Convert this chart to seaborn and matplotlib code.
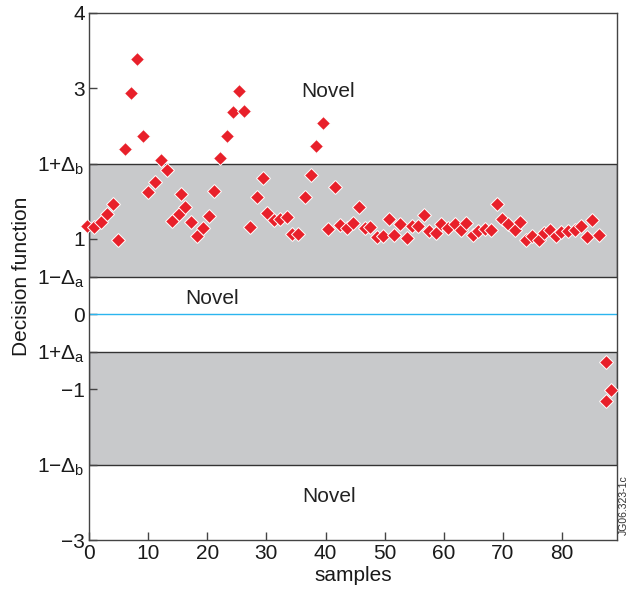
import matplotlib
matplotlib.use("Agg")
import matplotlib.pyplot as plt
import seaborn as sns
import pandas as pd

# ---- data ----
sample_x = [-0.29, 0.85, 1.98, 2.99, 4.11, 4.91, 6.04, 7.06, 8.12, 9.09,
            10.03, 11.12, 12.18, 13.15, 14.09, 15.18, 15.62, 16.24, 17.17, 18.22,
            19.24, 20.30, 21.15, 22.22, 23.30, 24.32, 25.43, 26.28, 27.24, 28.38,
            29.49, 30.17, 31.30, 32.32, 33.50, 34.30, 35.31, 36.55, 37.56, 38.41,
            39.54, 40.49, 41.62, 42.52, 43.60, 44.67, 45.69, 46.70, 47.60, 48.68,
            49.70, 50.76, 51.66, 52.67, 53.86, 54.70, 55.72, 56.73, 57.58, 58.71,
            59.61, 60.80, 61.88, 62.89, 63.79, 64.92, 65.87, 66.95, 68.07, 68.92,
            69.93, 70.90, 72.08, 72.93, 73.89, 74.91, 76.14, 76.87, 78.00, 78.97,
            79.86, 81.00, 82.12, 83.25, 84.26, 85.11, 86.24, 87.48, 87.48, 88.27]
decision = [1.17, 1.16, 1.23, 1.33, 1.46, 0.99, 2.19, 2.94, 3.39, 2.37,
            1.62, 1.76, 2.05, 1.91, 1.24, 1.33, 1.59, 1.42, 1.22, 1.04,
            1.14, 1.31, 1.64, 2.08, 2.37, 2.68, 2.96, 2.70, 1.16, 1.55,
            1.81, 1.35, 1.25, 1.26, 1.29, 1.06, 1.07, 1.56, 1.85, 2.23,
            2.54, 1.13, 1.69, 1.19, 1.15, 1.21, 1.42, 1.15, 1.16, 1.03,
            1.04, 1.27, 1.05, 1.20, 1.01, 1.17, 1.17, 1.32, 1.11, 1.08,
            1.20, 1.14, 1.20, 1.12, 1.21, 1.05, 1.11, 1.13, 1.12, 1.46,
            1.27, 1.20, 1.12, 1.23, 0.99, 1.04, 0.98, 1.08, 1.12, 1.04,
            1.09, 1.10, 1.12, 1.17, 1.02, 1.25, 1.05, -0.63, -1.16, -1.01]

ytick_vals = [4, 3, 2, 1, 0.5, 0, -0.5, -1, -2, -3]
ytick_labels = ["4", "3", r"1+$\Delta_{\mathrm{b}}$", "1", r"1$-\Delta_{\mathrm{a}}$", "0",
                r"1+$\Delta_{\mathrm{a}}$", "\u22121", r"1$-\Delta_{\mathrm{b}}$", "\u22123"]
xtick_vals = [0, 10, 20, 30, 40, 50, 60, 70, 80]
bands = [(0.5, 2.0), (-2.0, -0.5)]
novel_labels = [(40.4, 2.96), (20.8, 0.21), (40.6, -2.42)]

df = pd.DataFrame({"samples": sample_x, "decision": decision})

sns.set_theme(style="white")
plt.rcParams["font.family"] = ["Liberation Sans", "DejaVu Sans"]
plt.rcParams["mathtext.fontset"] = "custom"
plt.rcParams["mathtext.rm"] = "Liberation Sans"
plt.rcParams["mathtext.it"] = "Liberation Sans:italic"
plt.rcParams["mathtext.bf"] = "Liberation Sans:bold"
plt.rcParams["mathtext.sf"] = "Liberation Sans"

fig = plt.figure(figsize=(6.31, 5.99), dpi=100)
ax = fig.add_axes([89 / 631, 1 - 540 / 599, (617 - 89) / 631, (540 - 13) / 599])

for lo, hi in bands:
    ax.axhspan(lo, hi, facecolor="#c8c9cb", edgecolor="#333333", linewidth=1.0, zorder=0)
ax.axhline(0, color="#2bb5ef", linewidth=1.0, zorder=1)

sns.scatterplot(data=df, x="samples", y="decision", ax=ax, marker="D", s=50,
                color="#e8202a", edgecolor="white", linewidth=0.7, zorder=3,
                clip_on=False, legend=False)

for x, y in novel_labels:
    ax.text(x, y, "Novel", ha="center", va="center", fontsize=15, color="#222222")

ax.set_xlim(0, 89.3)
ax.set_ylim(-3, 4)
ax.set_xticks(xtick_vals)
ax.set_xticklabels([str(v) for v in xtick_vals])
ax.set_yticks(ytick_vals)
ax.set_yticklabels(ytick_labels)
ax.tick_params(direction="in", length=6, width=1, color="#444444",
               labelsize=15, labelcolor="#1a1a1a", pad=3, left=True, bottom=True)
ax.set_xlabel("samples", fontsize=15, color="#1a1a1a", labelpad=2)
ax.set_ylabel("Decision function", fontsize=15, color="#1a1a1a", labelpad=4)
for sp in ax.spines.values():
    sp.set_color("#444444")
    sp.set_linewidth(1.0)
    sp.set_visible(True)

fig.text(624 / 631, 1 - 505 / 599, "JG06.323-1c", rotation=90, ha="center",
         va="center", fontsize=7.5, color="#333333")

fig.savefig("out.png", dpi=100)
